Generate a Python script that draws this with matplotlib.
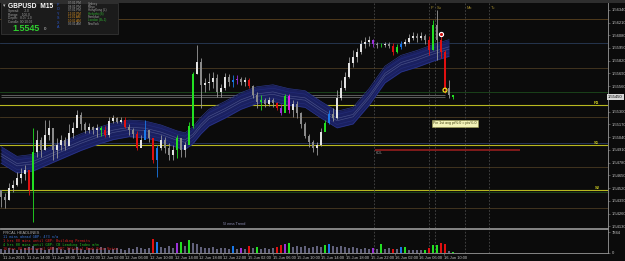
import matplotlib.pyplot as plt
from matplotlib.patches import Rectangle

# ---- data (GBPUSD M15) ----
first_open = 1.5450
closes = [1.5443, 1.5440, 1.5452, 1.5455, 1.5462, 1.5466, 1.5471, 1.5450, 1.5489, 1.5501,
          1.5491, 1.5506, 1.5513, 1.5491, 1.5496, 1.5501, 1.5495, 1.5508, 1.5513, 1.5527,
          1.5517, 1.5511, 1.5514, 1.5511, 1.5513, 1.5511, 1.5506, 1.5521, 1.5524, 1.5520,
          1.5522, 1.5514, 1.5511, 1.5507, 1.5493, 1.5501, 1.5511, 1.5503, 1.5481, 1.5493,
          1.5501, 1.5493, 1.5486, 1.5491, 1.5503, 1.5491, 1.5496, 1.5515, 1.5568, 1.5581,
          1.5557, 1.5559, 1.5560, 1.5564, 1.5550, 1.5554, 1.5565, 1.5560, 1.5562, 1.5563,
          1.5560, 1.5562, 1.5556, 1.5547, 1.5540, 1.5542, 1.5538, 1.5542, 1.5539, 1.5534,
          1.5529, 1.5546, 1.5532, 1.5538, 1.5529, 1.5517, 1.5505, 1.5499, 1.5493, 1.5496,
          1.5509, 1.5518, 1.5528, 1.5524, 1.5544, 1.5554, 1.5565, 1.5580, 1.5586, 1.5591,
          1.5599, 1.5601, 1.5603, 1.5599, 1.5598, 1.5598, 1.5599, 1.5597, 1.5591, 1.5596,
          1.5599, 1.5601, 1.5605, 1.5607, 1.5605, 1.5607, 1.5603, 1.5593, 1.5618, 1.5603,
          1.5591, 1.5554, 1.5547, 1.5545]
highs = [1.5450, 1.5447, 1.5457, 1.5460, 1.5469, 1.5473, 1.5476, 1.5469, 1.5513, 1.5511,
         1.5504, 1.5522, 1.5522, 1.5504, 1.5503, 1.5506, 1.5504, 1.5517, 1.5520, 1.5532,
         1.5530, 1.5520, 1.5518, 1.5515, 1.5517, 1.5515, 1.5515, 1.5525, 1.5527, 1.5525,
         1.5525, 1.5525, 1.5517, 1.5513, 1.5510, 1.5506, 1.5522, 1.5511, 1.5501, 1.5496,
         1.5506, 1.5504, 1.5498, 1.5496, 1.5506, 1.5501, 1.5499, 1.5520, 1.5571, 1.5598,
         1.5585, 1.5564, 1.5569, 1.5571, 1.5568, 1.5558, 1.5570, 1.5568, 1.5567, 1.5567,
         1.5565, 1.5565, 1.5564, 1.5557, 1.5550, 1.5547, 1.5544, 1.5545, 1.5544, 1.5540,
         1.5538, 1.5548, 1.5548, 1.5542, 1.5541, 1.5530, 1.5520, 1.5507, 1.5501, 1.5499,
         1.5513, 1.5522, 1.5532, 1.5534, 1.5552, 1.5562, 1.5571, 1.5586, 1.5593, 1.5595,
         1.5603, 1.5606, 1.5607, 1.5604, 1.5601, 1.5600, 1.5601, 1.5601, 1.5600, 1.5599,
         1.5602, 1.5604, 1.5609, 1.5611, 1.5610, 1.5611, 1.5609, 1.5607, 1.5624, 1.5634,
         1.5608, 1.5593, 1.5562, 1.5547]
lows = [1.5433, 1.5432, 1.5440, 1.5448, 1.5454, 1.5457, 1.5460, 1.5445, 1.5418, 1.5484,
        1.5484, 1.5491, 1.5501, 1.5481, 1.5483, 1.5491, 1.5491, 1.5501, 1.5503, 1.5514,
        1.5511, 1.5508, 1.5508, 1.5507, 1.5504, 1.5505, 1.5504, 1.5504, 1.5519, 1.5518,
        1.5519, 1.5513, 1.5506, 1.5503, 1.5491, 1.5496, 1.5506, 1.5499, 1.5478, 1.5463,
        1.5491, 1.5488, 1.5481, 1.5481, 1.5483, 1.5484, 1.5484, 1.5501, 1.5513, 1.5568,
        1.5534, 1.5550, 1.5552, 1.5554, 1.5545, 1.5545, 1.5552, 1.5556, 1.5555, 1.5558,
        1.5557, 1.5556, 1.5554, 1.5544, 1.5534, 1.5532, 1.5535, 1.5536, 1.5535, 1.5532,
        1.5527, 1.5530, 1.5529, 1.5525, 1.5524, 1.5513, 1.5503, 1.5494, 1.5489, 1.5486,
        1.5495, 1.5510, 1.5517, 1.5521, 1.5523, 1.5542, 1.5552, 1.5564, 1.5576, 1.5581,
        1.5589, 1.5595, 1.5597, 1.5596, 1.5595, 1.5596, 1.5596, 1.5595, 1.5588, 1.5590,
        1.5594, 1.5597, 1.5600, 1.5603, 1.5601, 1.5603, 1.5599, 1.5588, 1.5593, 1.5583,
        1.5585, 1.5549, 1.5544, 1.5543]
candle_marks = {7: 'r', 8: 'g', 25: 'g', 26: 'r', 31: 'r', 34: 'r', 36: 'b', 38: 'r', 39: 'b',
                44: 'g', 47: 'g', 48: 'g', 58: 'b', 59: 'p', 62: 'r', 65: 'g', 69: 'r', 70: 'p',
                71: 'g', 72: 'm', 81: 'g', 82: 'b', 93: 'p', 95: 'g', 98: 'r', 99: 'g', 100: 'b',
                107: 'r', 108: 'g', 110: 'r', 111: 'r', 113: 'g'}

volumes = [1424, 1068, 1780, 1424, 1068, 1424, 1780, 2136, 2492, 1424,
           1780, 1068, 1424, 2136, 1780, 1424, 1068, 1780, 1424, 2136,
           1424, 1068, 1780, 1424, 1424, 2136, 1780, 1068, 1424, 1780,
           1424, 1068, 1780, 1424, 2136, 1780, 1424, 1780, 5340, 4272,
           2136, 1780, 2492, 1780, 3916, 4272, 2492, 4984, 3560, 3204,
           2136, 1780, 1780, 2136, 1424, 1780, 1780, 1424, 2492, 1424,
           1780, 1424, 2492, 1780, 2136, 1424, 1780, 1424, 1780, 2136,
           2848, 3204, 3916, 2136, 2492, 2136, 2492, 1780, 2136, 2492,
           2136, 2848, 3204, 2492, 2136, 2492, 2136, 1780, 2136, 1780,
           1424, 1780, 1424, 1780, 1424, 3204, 1424, 1780, 1424, 1424,
           2136, 2136, 1068, 1068, 1068, 1068, 1068, 1780, 2848, 2848,
           3560, 3204, 712, 356]
vol_marks = {38: 'r', 39: 'b', 44: 'p', 45: 'g', 47: 'g', 58: 'b', 60: 'p', 62: 'r', 64: 'g',
             69: 'r', 70: 'r', 71: 'p', 72: 'g', 81: 'g', 82: 'b', 93: 'p', 95: 'g', 98: 'r',
             100: 'b', 101: 'g', 106: 'g', 107: 'r', 108: 'g', 109: 'g', 110: 'r', 111: 'r', 113: 'g'}
vol_max = 7844

band_bars = [0, 4, 8, 12, 16, 20, 24, 28, 32, 36, 40, 44, 46, 48, 50, 52, 56, 60, 64,
             68, 72, 76, 80, 84, 88, 92, 96, 100, 104, 108, 112]
band_mid = [1.5486, 1.5476, 1.5478, 1.5485, 1.5492, 1.5499, 1.5505, 1.5510, 1.5513, 1.5512,
            1.5508, 1.5502, 1.5500, 1.5506, 1.5516, 1.5524, 1.5532, 1.5541, 1.5547, 1.5549,
            1.5545, 1.5543, 1.5532, 1.5522, 1.5526, 1.5545, 1.5568, 1.5579, 1.5584, 1.5590,
            1.5595]

level_prices = [1.5625, 1.5600, 1.5575, 1.5550, 1.5537, 1.5525, 1.5498, 1.5496, 1.5474, 1.5450, 1.5448, 1.5432]
level_colors = ['#5a4320', '#2a3c58', '#4a3a22', '#1c4a1c', '#b8b820', '#4a3a22', '#2a3c68', '#b8b820',
                '#4a3a22', '#b8b820', '#1c4a1c', '#4a3a22']
level_tags = {4: 'R1', 7: 'S1', 9: 'S2'}
gray_lines = [1.5547, 1.5545]
kol_price = 1.5491
kol_span = (93.5, 129.75)

session_bars = [93.25, 107.0, 108.5, 116.0, 122.0]
session_names = ['', 'P', 'Su', 'Mo', 'Tu']

signal_bars = [110, 111]
signal_prices = [1.5609, 1.5552]

price_ticks = [1.5634, 1.5621, 1.5608, 1.5595, 1.5582, 1.5569, 1.5556, 1.5530, 1.5517, 1.5504,
               1.5491, 1.5478, 1.5465, 1.5452, 1.5439, 1.5426, 1.5413]
last_price = 1.5545

time_ticks = [0.5, 6.6, 12.75, 18.9, 25.0, 31.1, 37.25, 43.4, 49.5, 55.6, 61.75, 67.9, 74.0,
              80.1, 86.25, 92.4, 98.5, 104.6, 110.75]
time_labels = ['11 Jun 2015', '11 Jun 14:00', '11 Jun 18:00', '11 Jun 22:00', '12 Jun 02:00',
               '12 Jun 06:00', '12 Jun 10:00', '12 Jun 14:00', '12 Jun 18:00', '12 Jun 22:00',
               '15 Jun 02:00', '15 Jun 06:00', '15 Jun 10:00', '15 Jun 14:00', '15 Jun 18:00',
               '15 Jun 22:00', '16 Jun 02:00', '16 Jun 06:00', '16 Jun 10:00']

headlines = ['11 mins ahead GBP: 4?3 n/a',
             '1 hrs 00 mins until GBP: Building Permits',
             '4 hrs 00 mins until GBP: CB Leading Index m/m',
             '16 hrs 00 mins until GBP: MPC Official Bank Rate Votes']
headline_colors = ['#3a78e0', '#e02020', '#20c020', '#e02020']

palette = {'r': '#e01010', 'g': '#22e022', 'b': '#1a78e8', 'p': '#9a30d8', 'm': '#e020e0'}
BG = '#0b0b0b'
TXT = '#c4c4c4'
plt.rcParams['font.family'] = ['Liberation Sans', 'DejaVu Sans']

W, H = 625, 261
fig = plt.figure(figsize=(W / 100, H / 100), dpi=100, facecolor=BG)


def fx(x):
    return x / W


def fy(y):
    return 1 - y / H


ax = fig.add_axes([0, fy(228), fx(608), (228 - 3) / H], facecolor=BG)
ax2 = fig.add_axes([0, fy(253), fx(608), (253 - 229) / H], facecolor=BG, sharex=ax)

# levels
for i, (p, c) in enumerate(zip(level_prices, level_colors)):
    ax.axhline(p, color=c, lw=0.8 if c == '#b8b820' else 0.6, zorder=1)
    if i in level_tags:
        ax.text(149.6, p, level_tags[i], color='#c8c820', fontsize=3, ha='right', va='bottom',
                fontweight='bold', zorder=6)
ax.hlines(gray_lines, 0, 111, color='#6a6a6a', lw=0.6, zorder=1)
ax.hlines(kol_price, kol_span[0], kol_span[1], color='#8a1c1c', lw=1.3, zorder=2)
ax.text(kol_span[0] + 0.3, kol_price - 0.00012, 'KOL', color='#909090', fontsize=2.6, va='top')

for xb, name in zip(session_bars, session_names):
    ax.axvline(xb, color='#4a4a4a', lw=0.6, ls=(0, (2, 2)), zorder=1)
    ax2.axvline(xb, color='#4a4a4a', lw=0.6, ls=(0, (2, 2)), zorder=1)
    if name:
        ax.text(xb + 0.4, 1.5636, name, color='#a89030', fontsize=2.8, va='center')

# moving-average ribbon
ax.fill_between(band_bars, [m - 0.00085 for m in band_mid], [m + 0.00085 for m in band_mid],
                color='#1a2060', lw=0, zorder=2)
for off, col in [(-0.00085, '#2c3890'), (0.00085, '#2c3890'), (-0.0005, '#232c78'),
                 (0.0005, '#232c78'), (-0.00012, '#4a5288'), (0.00012, '#4a5288')]:
    ax.plot(band_bars, [m + off for m in band_mid], color=col, lw=0.45, zorder=3)

# candles
opens = [first_open] + closes[:-1]
idx = list(range(len(closes)))
wick_cols, body_cols = [], []
for i in idx:
    k = candle_marks.get(i)
    if k:
        wick_cols.append(palette[k])
        body_cols.append(palette[k])
    else:
        wick_cols.append('#9a9a9a')
        body_cols.append('#e2e2e2' if closes[i] >= opens[i] else '#8a8a8a')
ax.vlines(idx, lows, highs, colors=wick_cols, lw=0.6, zorder=4)
bottoms = [min(o, c) for o, c in zip(opens, closes)]
heights = [max(abs(c - o), 0.00004) for o, c in zip(opens, closes)]
ax.bar(idx, heights, bottom=bottoms, width=0.5, color=body_cols, lw=0, zorder=5)

ax.scatter(signal_bars[:1], signal_prices[:1], s=9, facecolor='#cc1010', edgecolor='white',
           lw=0.8, zorder=7)
ax.scatter(signal_bars[1:], signal_prices[1:], s=8, facecolor='none', edgecolor='#f0e020',
           lw=0.9, zorder=7)

ax.text(113.5, 1.5518, 'Pin 1st avg pt%:0 = pts%:0', fontsize=2.6, color='#404010',
        ha='center', va='center', zorder=8,
        bbox=dict(boxstyle='square,pad=0.4', facecolor='#f2f2b8', edgecolor='#9a9a50', lw=0.4))
ax.text(55.5, 1.5415, '5l ema Trend', fontsize=2.8, color='#8a8ab0', va='center')

ax.set_xlim(-0.25, 151.75)
ax.set_ylim(1.54114, 1.56409)
ax.yaxis.tick_right()
ax.set_yticks(price_ticks)
ax.set_yticklabels([f'{v:.5f}' for v in price_ticks])
ax.tick_params(axis='y', colors='#8a8a8a', labelcolor=TXT, labelsize=3, length=1.5, width=0.4, pad=1)
ax.tick_params(axis='x', bottom=False, labelbottom=False)
for s in ['top', 'left']:
    ax.spines[s].set_visible(False)
ax.spines['right'].set_color('#9a9a9a')
ax.spines['bottom'].set_color('#9a9a9a')
ax.spines['right'].set_linewidth(0.6)
ax.spines['bottom'].set_linewidth(0.6)
ax.text(1.0, last_price, f'{last_price:.5f}', transform=ax.get_yaxis_transform(), fontsize=3,
        color='black', va='center', ha='left', zorder=9, clip_on=False,
        bbox=dict(boxstyle='square,pad=0.25', facecolor='#d8d8d8', edgecolor='none'))

# volume panel
vcols = [palette[vol_marks[i]] if i in vol_marks else '#62627c' for i in idx]
ax2.bar(idx, volumes, width=0.6, color=vcols, lw=0)
ax2.set_ylim(0, vol_max * 24 / 21)
ax2.yaxis.tick_right()
ax2.set_yticks([0, vol_max])
ax2.set_yticklabels(['0', str(vol_max)])
ax2.tick_params(axis='y', colors='#8a8a8a', labelcolor=TXT, labelsize=3, length=1.5, width=0.4, pad=1)
ax2.set_xticks(time_ticks)
ax2.set_xticklabels(time_labels, ha='left')
ax2.tick_params(axis='x', colors='#8a8a8a', labelcolor=TXT, labelsize=2.9, length=1.5, width=0.4, pad=1)
for s in ['left']:
    ax2.spines[s].set_visible(False)
for s in ['top', 'right', 'bottom']:
    ax2.spines[s].set_color('#9a9a9a')
    ax2.spines[s].set_linewidth(0.6)
ax2.text(0.005, 0.93, 'FRCAL HEADLINES', transform=ax2.transAxes, fontsize=2.8, color='#b0b0b0', va='top')
for j, (line, col) in enumerate(zip(headlines, headline_colors)):
    ax2.text(0.005, 0.74 - j * 0.17, line, transform=ax2.transAxes, fontsize=2.5, color=col,
             va='top', family='DejaVu Sans Mono')

# top strip and info box
fig.patches.append(Rectangle((0, fy(2.5)), 1, 2.5 / H, transform=fig.transFigure,
                             facecolor='#2e2e2e', edgecolor='none'))
fig.patches.append(Rectangle((fx(0.5), fy(34)), fx(117), 31 / H, transform=fig.transFigure,
                             facecolor='#1b1b1b', edgecolor='#3a3a3a', lw=0.5, zorder=10))
fig.text(fx(3), fy(6), '\u25be', color='#c0c0c0', fontsize=3.5, va='center', zorder=11)
fig.text(fx(8), fy(6), 'GBPUSD  M15', color='white', fontsize=4.8, fontweight='bold', va='center', zorder=11)
info_rows = ['Spread:      2.0', 'Range:    106.0', 'Depth:   8.0 / 1.0', 'Candle: 00:10:02']
for j, r in enumerate(info_rows):
    fig.text(fx(8), fy(11 + j * 3.6), r, color='#a0a0a0', fontsize=2.3, va='center', zorder=11)
fig.text(fx(12), fy(28.5), '1.5545', color='#30d030', fontsize=6.5, fontweight='bold', va='center', zorder=11)
fig.text(fx(44), fy(29), '0', color='#d0d0d0', fontsize=3.2, va='center', zorder=11)
for j, ch in enumerate('POYSXA'):
    fig.text(fx(58), fy(5 + j * 4.4), ch, color='#2a58d0', fontsize=2.6, va='center', ha='center', zorder=11)
sess_times = ['07:01 PM', '08:01 PM', '07:01 PM', '12:01 PM', '11:01 AM', '10:01 AM', '05:01 AM']
sess_names = ['Sydney', 'Tokyo', 'HongKong (L)', 'Helsinki (B)', 'Frankfurt', 'London (B+1)', 'NewYork']
time_cols = ['#a0a0a0', '#a0a0a0', '#a0a0a0', '#d08a20', '#d08a20', '#d08a20', '#a0a0a0']
name_cols = ['#a0a0a0', '#a0a0a0', '#a0a0a0', '#30b030', '#a0a0a0', '#30b030', '#a0a0a0']
for j in range(7):
    fig.text(fx(68), fy(3.5 + j * 3.4), sess_times[j], color=time_cols[j], fontsize=2.2, va='center', zorder=11)
    fig.text(fx(88), fy(3.5 + j * 3.4), sess_names[j], color=name_cols[j], fontsize=2.2, va='center', zorder=11)

fig.savefig('out.png', dpi=100, facecolor=BG)
